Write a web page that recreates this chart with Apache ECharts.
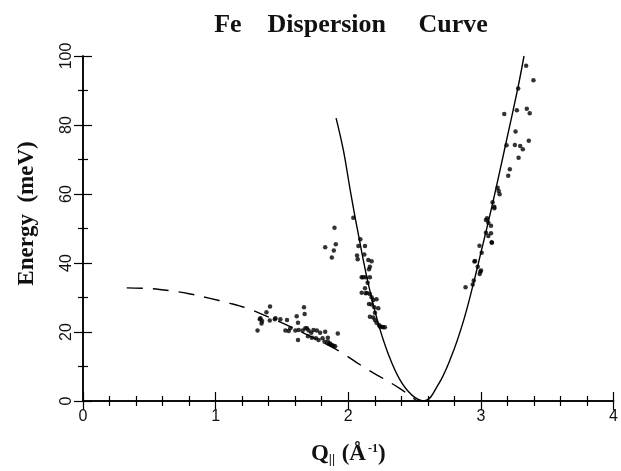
<!DOCTYPE html>
<html>
<head>
<meta charset="utf-8">
<script src="https://cdn.jsdelivr.net/npm/echarts@6/dist/echarts.min.js"></script>
<style>
html,body{margin:0;padding:0;background:#fff;}
#chart{width:621px;height:471px;}
</style>
</head>
<body>
<div id="chart"></div>
<script>
// ---- data (Q in 1/Å, Energy in meV) ----
const titleText = 'Fe    Dispersion     Curve';
const yAxisTitle = 'Energy  (meV)';

// solid dispersion curve (two branches meeting near Q≈2.57)
const solidCurve = [
  [1.908,82],[1.963,72.7],[2.013,61.5],[2.07,49.5],[2.15,34.1],[2.226,22.5],
  [2.30,13.8],[2.39,6.1],[2.48,1.7],[2.57,0],
  [2.676,4.6],[2.776,12.8],[2.863,22.5],[2.94,33.5],[3.0,43],[3.05,51],
  [3.11,61],[3.19,75],[3.28,91],[3.325,100]
];

// dashed curve
const dashedCurve = [
  [0.33,32.8],[0.5,32.6],[0.65,32.0],[0.8,31.1],[0.95,29.8],[1.1,28.4],
  [1.25,26.7],[1.4,24.3],[1.55,21.8],[1.7,19.0],[1.85,16.2],[1.95,14.0],
  [2.05,11.5],[2.15,9.0],[2.26,6.6],[2.39,3.6],[2.49,0.8],[2.52,0]
];

// measured points: low-energy cluster
const lowCluster = [
  [1.316,20.4],[1.333,23.7],[1.35,23.2],[1.346,22.5],[1.383,25.7],[1.41,27.4],
  [1.408,23.3],[1.446,23.7],[1.488,23.7],[1.538,23.5],[1.526,20.4],[1.551,20.3],
  [1.611,24.6],[1.621,22.7],[1.666,27.2],[1.671,25.2],[1.601,20.4],[1.626,20.6],
  [1.656,20.4],[1.621,17.7],[1.676,21.1],[1.701,20.4],[1.696,18.8],[1.721,19.8],
  [1.738,20.6],[1.763,20.4],[1.756,18.2],[1.776,17.7],[1.788,19.8],[1.826,20.1],
  [1.806,18.2],[1.821,17.2],[1.846,17.2],[1.856,16.5],[1.876,16.2],[1.901,15.9],
  [1.921,19.6],[1.726,18.3],[1.863,16.7],[1.888,16.0],[1.563,21.1],[1.451,24.0],
  [1.338,24.0],[1.846,18.3],[1.688,21.1]
];

// measured points: isolated group near Q≈1.9
const midOutliers = [
  [1.826,44.6],[1.896,50.2],[1.906,45.4],[1.891,43.6],[1.876,41.6]
];

// measured points along the left branch
const leftBranchPts = [
  [2.038,53.1],[2.091,46.9],[2.076,44.9],[2.126,44.9],[2.066,42.2],[2.071,41.1],
  [2.121,42.5],[2.151,40.9],[2.176,40.5],[2.163,38.9],[2.156,38.2],[2.101,35.9],
  [2.131,35.9],[2.163,35.9],[2.146,34.3],[2.126,32.7],[2.101,31.4],[2.131,31.2],
  [2.163,31.0],[2.176,30.1],[2.188,29.3],[2.213,29.5],[2.156,28.1],[2.196,27.2],
  [2.226,26.9],[2.201,25.6],[2.163,24.4],[2.188,24.2],[2.201,23.5],[2.213,22.7],
  [2.231,22.0],[2.251,21.5],[2.276,21.4],[2.111,35.9],[2.141,31.3],[2.176,28.0],
  [2.238,21.6],[2.263,21.4]
];

// measured points along the right branch
const rightBranchPts = [
  [3.341,97.2],[3.396,93.0],[3.281,90.6],[3.176,83.2],[3.271,84.3],[3.346,84.7],
  [3.368,83.4],[3.261,78.1],[3.193,74.1],[3.256,74.2],[3.296,73.9],[3.316,73.0],
  [3.361,75.4],[3.284,70.5],[3.218,67.2],[3.206,65.3],[3.126,61.8],[3.134,60.9],
  [3.141,59.9],[3.088,57.6],[3.101,55.9],[3.046,53.0],[3.056,51.7],[3.076,50.8],
  [3.038,48.8],[3.056,47.8],[3.081,46.0],[2.989,45.0],[3.006,43.0],[2.956,40.6],
  [2.976,38.9],[3.001,37.8],[2.991,36.8],[2.946,34.9],[2.938,33.8],[2.884,33.0],
  [2.951,40.4],[2.996,37.5],[3.038,52.5],[3.101,56.3],[3.083,45.9],[3.076,48.6]
];

const serif = '"Liberation Serif","DejaVu Serif",serif';
const sans = '"Liberation Sans","DejaVu Sans",sans-serif';

const axisLine = {show:true, lineStyle:{color:'#000', width:1.5}};
const xTick = {show:true, inside:true, length:9, lineStyle:{color:'#000', width:1.2}};
const xMinor = {show:true, splitNumber:5, length:5, lineStyle:{color:'#000', width:1.2}};
const yTick = {show:true, inside:true, length:9, lineStyle:{color:'#000', width:1.2}};
const yMinor = {show:true, splitNumber:2, length:5, lineStyle:{color:'#000', width:1.2}};

const chart = echarts.init(document.getElementById('chart'), null, {renderer:'canvas'});
const scatterStyle = {type:'scatter', symbol:'circle', symbolSize:4.5, itemStyle:{color:'#000'}, z:3};
chart.setOption({
  backgroundColor:'#fff',
  animation:false,
  title:{
    text:titleText, left:346, top:7, textAlign:'center',
    textStyle:{fontFamily:serif, fontSize:26, fontWeight:'bold', color:'#111'}
  },
  grid:{left:83, right:5, top:56, bottom:70, containLabel:false},
  xAxis:[{
    type:'value', min:0, max:4, interval:1,
    axisLine:axisLine, axisTick:xTick, minorTick:xMinor, splitLine:{show:false},
    axisLabel:{fontFamily:sans, fontSize:16, color:'#111', margin:8},
    name:'{q|Q}{s|||}  {q|(Å}{p|-1}{q|)}', nameLocation:'middle', nameGap:42,
    nameTextStyle:{
      rich:{
        q:{fontFamily:serif, fontSize:23, fontWeight:'bold', color:'#111'},
        s:{fontFamily:sans, fontSize:12, color:'#111', verticalAlign:'bottom', padding:[10,0,0,0]},
        p:{fontFamily:serif, fontSize:12, fontWeight:'bold', color:'#111', verticalAlign:'top', padding:[0,0,10,2]}
      }
    }
  },{
    type:'value', position:'top', min:0, max:4, interval:1,
    axisLine:axisLine, axisTick:xTick, minorTick:xMinor, splitLine:{show:false},
    axisLabel:{show:false}
  }],
  yAxis:[{
    type:'value', min:0, max:100, interval:20,
    axisLine:axisLine, axisTick:yTick, minorTick:yMinor, splitLine:{show:false},
    axisLabel:{fontFamily:sans, fontSize:16, color:'#111', rotate:90, margin:8},
    name:yAxisTitle, nameLocation:'middle', nameGap:44, nameRotate:90,
    nameTextStyle:{fontFamily:serif, fontSize:23, fontWeight:'bold', color:'#111', padding:[0,0,0,30]}
  },{
    type:'value', position:'right', min:0, max:100, interval:20,
    axisLine:axisLine, axisTick:yTick, minorTick:yMinor, splitLine:{show:false},
    axisLabel:{show:false}
  }],
  series:[
    {type:'line', data:solidCurve, smooth:0.4, symbol:'none', lineStyle:{color:'#000', width:1.4}, z:2},
    {type:'line', data:dashedCurve, smooth:0.4, symbol:'none', lineStyle:{color:'#000', width:1.4, type:[16,10]}, z:2},
    Object.assign({data:lowCluster}, scatterStyle),
    Object.assign({data:midOutliers}, scatterStyle),
    Object.assign({data:leftBranchPts}, scatterStyle),
    Object.assign({data:rightBranchPts}, scatterStyle)
  ]
});
</script>
</body>
</html>
